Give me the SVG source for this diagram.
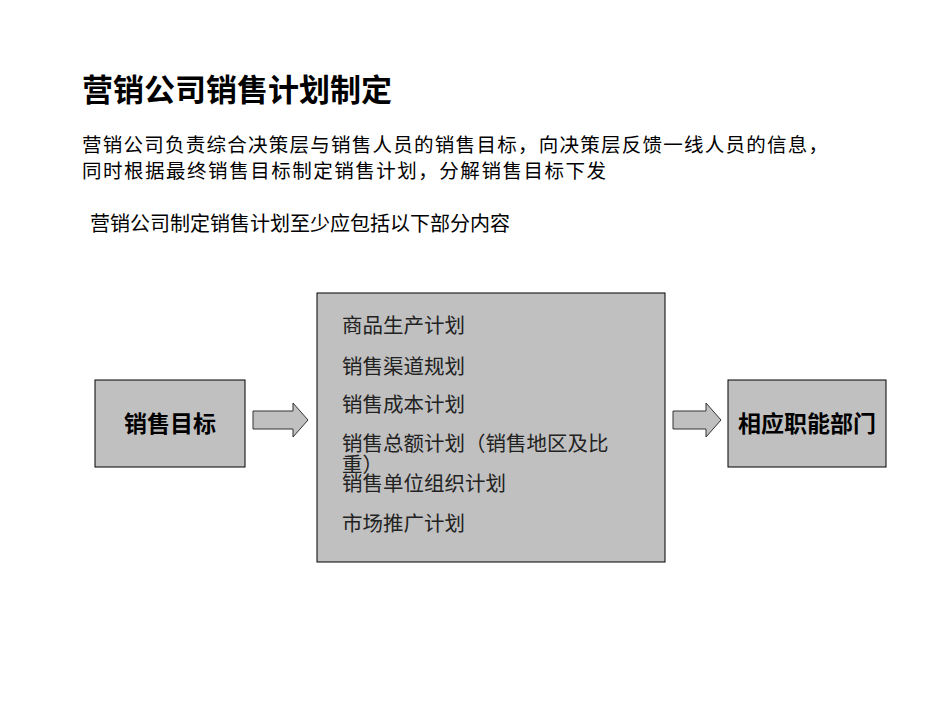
<svg xmlns="http://www.w3.org/2000/svg" width="950" height="713" viewBox="0 0 950 713">
<style>
text{font-family:"Noto Sans CJK SC","Noto Sans",sans-serif;fill:#000}
.box{fill:#c0c0c0;stroke:#000;stroke-width:1}
.arr{fill:#c0c0c0;stroke:#333;stroke-width:1}
.item{font-size:20.5px;fill:#222}
.lbl{font-size:23px;font-weight:bold}
</style>
<rect width="950" height="713" fill="#fff"/>
<text x="82" y="101" font-size="31" font-weight="bold">营销公司销售计划制定</text>
<text x="82" y="152" font-size="19.5" textLength="746" lengthAdjust="spacing">营销公司负责综合决策层与销售人员的销售目标，向决策层反馈一线人员的信息，</text>
<text x="82" y="178" font-size="19.5" textLength="524" lengthAdjust="spacing">同时根据最终销售目标制定销售计划，分解销售目标下发</text>
<text x="90" y="231" font-size="20">营销公司制定销售计划至少应包括以下部分内容</text>
<g id="n1"><rect class="box" x="95" y="380" width="150" height="87"/><text class="lbl" x="170" y="432" text-anchor="middle">销售目标</text></g>
<g id="n2"><rect class="box" x="317" y="293" width="348" height="269"/>
<text class="item" x="342" y="333">商品生产计划</text>
<text class="item" x="342" y="374">销售渠道规划</text>
<text class="item" x="342" y="412">销售成本计划</text>
<text class="item" x="342" y="451">销售总额计划（销售地区及比</text>
<text class="item" x="342" y="472">重）</text>
<text class="item" x="342" y="491">销售单位组织计划</text>
<text class="item" x="342" y="531">市场推广计划</text></g>
<g id="n3"><rect class="box" x="728" y="380" width="158" height="87"/><text class="lbl" x="807" y="432" text-anchor="middle">相应职能部门</text></g>
<g id="connectors">
<path class="arr" d="M253 411H293V403L308 420L293 437V429H253Z"/>
<path class="arr" d="M673 411H706V403L721 420L706 437V429H673Z"/>
</g>
</svg>
